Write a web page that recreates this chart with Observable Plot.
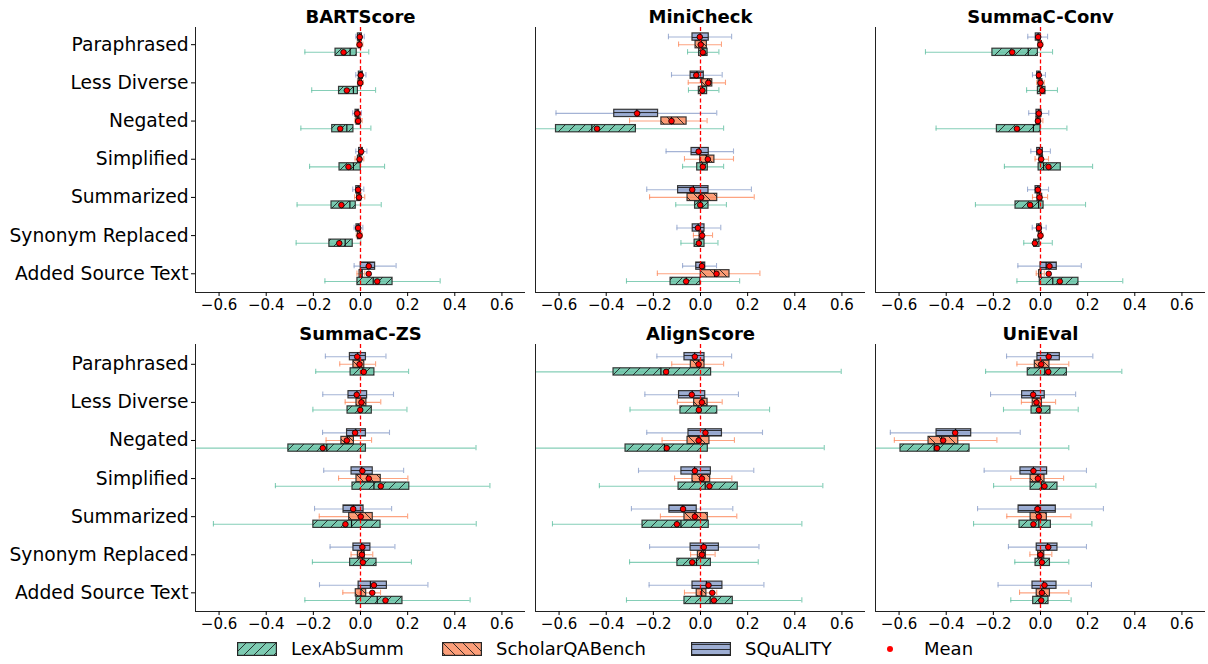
<!DOCTYPE html>
<html>
<head>
<meta charset="utf-8">
<script src="https://cdn.jsdelivr.net/npm/d3@7"></script>
<script src="https://cdn.jsdelivr.net/npm/@observablehq/plot@0.6"></script>
<style>
  html, body { margin: 0; padding: 0; background: #fff; }
  #root { position: relative; width: 1208px; height: 664px; overflow: hidden; font-family: "DejaVu Sans", sans-serif; }
  .panel { position: absolute; }
  .legend-item { position: absolute; font-size: 18px; color: #000; line-height: 1; }
  .legend-item svg { display: block; }
</style>
</head>
<body>
<svg width="0" height="0" style="position:absolute">
  <defs>
    <pattern id="hatch0" patternUnits="userSpaceOnUse" width="10" height="10">
      <path d="M0,10 L10,0 M-1,1 L1,-1 M9,11 L11,9" stroke="#1a1a1a" stroke-width="1" stroke-opacity="0.85"/>
    </pattern>
    <pattern id="hatch1" patternUnits="userSpaceOnUse" width="10" height="10">
      <path d="M0,0 L10,10 M-1,9 L1,11 M9,-1 L11,1" stroke="#1a1a1a" stroke-width="1" stroke-opacity="0.85"/>
    </pattern>
    <pattern id="hatch2" patternUnits="userSpaceOnUse" width="10" height="5">
      <path d="M0,2.5 L10,2.5" stroke="#1a1a1a" stroke-width="1" stroke-opacity="0.85"/>
    </pattern>
  </defs>
</svg>
<div id="root"></div>
<script>
const categories = ["Paraphrased","Less Diverse","Negated","Simplified","Summarized","Synonym Replaced","Added Source Text"];
const datasets = ["LexAbSumm","ScholarQABench","SQuALITY"];
const colors = ["#66c2a5","#fc8d62","#8da0cb"];
const hatches = ["url(#hatch0)","url(#hatch1)","url(#hatch2)"];
const metrics = ["BARTScore","MiniCheck","SummaC-Conv","SummaC-ZS","AlignScore","UniEval"];
const xTicks = [-0.6,-0.4,-0.2,0,0.2,0.4,0.6];

// each row: [whisker low, q1, median, q3, whisker high, mean], in category order
const BARTScore_LexAbSumm = [[-0.236,-0.106,-0.044,-0.016,0.035,-0.072],[-0.207,-0.091,-0.03,-0.011,0.064,-0.058],[-0.253,-0.12,-0.058,-0.03,0.044,-0.086],[-0.216,-0.089,-0.03,0.001,0.102,-0.051],[-0.269,-0.123,-0.045,-0.02,0.088,-0.081],[-0.273,-0.132,-0.065,-0.033,0.001,-0.09],[-0.151,-0.013,0.054,0.136,0.338,0.071]];
const BARTScore_ScholarQABench = [[-0.016,-0.008,-0.004,0.003,0.01,-0.004],[-0.013,-0.008,-0.001,0.006,0.012,-0.001],[-0.024,-0.017,-0.01,0.0,0.007,-0.01],[-0.023,-0.011,-0.004,0.004,0.014,-0.004],[-0.025,-0.014,-0.006,0.003,0.018,-0.006],[-0.018,-0.011,-0.004,0.003,0.008,-0.004],[-0.015,-0.004,0.002,0.01,0.018,0.035]];
const BARTScore_SQuALITY = [[-0.02,-0.011,-0.003,0.006,0.016,-0.003],[-0.02,-0.007,0.002,0.01,0.023,0.001],[-0.033,-0.021,-0.014,-0.006,0.004,-0.014],[-0.02,-0.006,0.003,0.01,0.027,0.003],[-0.033,-0.018,-0.01,-0.001,0.014,-0.01],[-0.027,-0.017,-0.01,0.0,0.01,-0.01],[-0.027,0.001,0.03,0.062,0.151,0.035]];

const MiniCheck_LexAbSumm = [[-0.055,-0.006,0.01,0.03,0.078,0.01],[-0.051,-0.007,0.008,0.028,0.078,0.008],[-0.75,-0.613,-0.461,-0.274,0.098,-0.439],[-0.076,-0.014,0.008,0.031,0.098,0.01],[-0.105,-0.023,0.0,0.034,0.11,-0.001],[-0.083,-0.025,-0.005,0.017,0.074,-0.007],[-0.314,-0.127,-0.06,-0.001,0.166,-0.061]];
const MiniCheck_ScholarQABench = [[-0.093,-0.021,0.002,0.027,0.089,0.001],[-0.052,0.007,0.03,0.05,0.106,0.033],[-0.301,-0.166,-0.123,-0.059,0.028,-0.123],[-0.068,-0.001,0.025,0.059,0.14,0.031],[-0.216,-0.055,0.0,0.071,0.228,0.003],[-0.03,-0.004,0.006,0.014,0.051,0.007],[-0.183,0.001,0.06,0.123,0.252,0.068]];
const MiniCheck_SQuALITY = [[-0.136,-0.034,-0.001,0.035,0.132,-0.003],[-0.123,-0.042,-0.015,0.014,0.092,-0.018],[-0.613,-0.366,-0.27,-0.18,0.069,-0.269],[-0.146,-0.038,-0.005,0.035,0.14,-0.008],[-0.228,-0.095,-0.03,0.034,0.216,-0.035],[-0.1,-0.033,-0.01,0.017,0.086,-0.011],[-0.076,-0.018,0.005,0.02,0.068,0.006]];

const SummaCConv_LexAbSumm = [[-0.488,-0.204,-0.052,-0.011,0.051,-0.12],[-0.059,-0.011,0.005,0.021,0.072,0.007],[-0.443,-0.185,-0.03,0.0,0.112,-0.1],[-0.153,-0.008,0.013,0.086,0.221,0.034],[-0.276,-0.106,-0.008,0.013,0.191,-0.044],[-0.071,-0.027,-0.02,-0.004,0.05,-0.024],[-0.1,-0.003,0.052,0.161,0.349,0.082]];
const SummaCConv_ScholarQABench = [[-0.01,-0.008,-0.001,0.006,0.01,-0.001],[-0.016,-0.008,0.0,0.008,0.016,0.0],[-0.02,-0.017,-0.011,0.0,0.01,-0.011],[-0.023,-0.004,0.003,0.011,0.034,0.003],[-0.034,-0.013,-0.004,0.007,0.03,-0.004],[-0.01,-0.007,0.0,0.006,0.01,0.0],[-0.018,-0.006,0.0,0.004,0.016,0.035]];
const SummaCConv_SQuALITY = [[-0.054,-0.02,-0.01,0.001,0.03,-0.01],[-0.034,-0.014,-0.007,0.001,0.021,-0.007],[-0.05,-0.017,-0.007,0.004,0.035,-0.007],[-0.041,-0.014,-0.004,0.01,0.042,-0.004],[-0.055,-0.021,-0.011,-0.001,0.034,-0.011],[-0.035,-0.014,-0.007,0.004,0.024,-0.007],[-0.096,0.0,0.024,0.069,0.173,0.038]];

const SummaCZS_LexAbSumm = [[-0.19,-0.042,0.01,0.059,0.204,0.014],[-0.202,-0.055,-0.002,0.048,0.197,-0.001],[-0.75,-0.306,-0.143,0.023,0.49,-0.16],[-0.361,-0.034,0.057,0.207,0.549,0.086],[-0.624,-0.2,-0.038,0.085,0.491,-0.064],[-0.204,-0.044,0.008,0.068,0.216,0.01],[-0.236,-0.017,0.071,0.178,0.465,0.106]];
const SummaCZS_ScholarQABench = [[-0.088,-0.03,-0.005,0.016,0.064,-0.004],[-0.065,-0.017,0.003,0.025,0.086,0.004],[-0.146,-0.081,-0.055,-0.028,0.047,-0.058],[-0.093,-0.017,0.03,0.086,0.201,0.035],[-0.175,-0.048,0.0,0.052,0.2,0.001],[-0.04,-0.011,0.004,0.018,0.052,0.006],[-0.075,-0.02,0.002,0.024,0.085,0.05]];
const SummaCZS_SQuALITY = [[-0.149,-0.045,-0.012,0.023,0.108,-0.014],[-0.16,-0.051,-0.015,0.028,0.14,-0.016],[-0.161,-0.057,-0.02,0.023,0.123,-0.023],[-0.156,-0.038,0.005,0.052,0.183,0.008],[-0.195,-0.072,-0.03,0.013,0.132,-0.031],[-0.129,-0.03,0.005,0.042,0.146,0.008],[-0.174,-0.008,0.042,0.112,0.286,0.057]];

const AlignScore_LexAbSumm = [[-0.75,-0.369,-0.168,0.045,0.597,-0.146],[-0.299,-0.085,-0.01,0.071,0.293,-0.007],[-0.75,-0.318,-0.153,0.031,0.525,-0.143],[-0.429,-0.093,0.02,0.158,0.519,0.038],[-0.628,-0.246,-0.083,0.035,0.43,-0.1],[-0.301,-0.098,-0.017,0.044,0.245,-0.035],[-0.314,-0.068,0.041,0.137,0.43,0.057]];
const AlignScore_ScholarQABench = [[-0.122,-0.041,-0.008,0.017,0.098,-0.008],[-0.098,-0.027,0.006,0.03,0.092,0.006],[-0.163,-0.055,-0.01,0.038,0.144,-0.008],[-0.11,-0.034,0.005,0.041,0.133,0.006],[-0.17,-0.068,-0.025,0.031,0.154,-0.024],[-0.042,-0.011,0.005,0.023,0.062,0.006],[-0.068,-0.016,0.005,0.025,0.069,0.05]];
const AlignScore_SQuALITY = [[-0.185,-0.068,-0.025,0.017,0.132,-0.024],[-0.236,-0.091,-0.035,0.02,0.161,-0.037],[-0.228,-0.051,0.02,0.091,0.263,0.021],[-0.263,-0.081,-0.025,0.044,0.226,-0.024],[-0.293,-0.132,-0.075,-0.016,0.137,-0.074],[-0.216,-0.042,0.012,0.078,0.248,0.014],[-0.218,-0.034,0.025,0.093,0.269,0.034]];

const UniEval_LexAbSumm = [[-0.233,-0.054,0.018,0.112,0.345,0.033],[-0.157,-0.038,-0.005,0.042,0.16,-0.007],[-0.75,-0.594,-0.451,-0.301,0.12,-0.439],[-0.199,-0.042,0.004,0.072,0.235,0.017],[-0.284,-0.089,-0.007,0.044,0.218,-0.03],[-0.109,-0.021,0.004,0.04,0.12,0.006],[-0.126,-0.031,0.0,0.034,0.13,0.003]];
const UniEval_ScholarQABench = [[-0.1,-0.024,0.003,0.038,0.12,0.003],[-0.081,-0.033,-0.015,0.006,0.064,-0.017],[-0.62,-0.475,-0.42,-0.349,-0.185,-0.413],[-0.126,-0.042,-0.01,0.017,0.098,-0.011],[-0.143,-0.042,-0.005,0.027,0.129,-0.007],[-0.045,-0.01,0.0,0.016,0.048,0.0],[-0.089,-0.016,0.005,0.04,0.12,0.006]];
const UniEval_SQuALITY = [[-0.144,-0.013,0.03,0.082,0.222,0.035],[-0.212,-0.078,-0.03,0.018,0.149,-0.031],[-0.637,-0.441,-0.36,-0.294,-0.086,-0.362],[-0.239,-0.085,-0.03,0.028,0.195,-0.03],[-0.267,-0.093,-0.012,0.065,0.267,-0.013],[-0.136,-0.016,0.03,0.072,0.195,0.033],[-0.18,-0.034,0.013,0.068,0.216,0.017]];

const metricData = {
  "BARTScore": [BARTScore_LexAbSumm, BARTScore_ScholarQABench, BARTScore_SQuALITY],
  "MiniCheck": [MiniCheck_LexAbSumm, MiniCheck_ScholarQABench, MiniCheck_SQuALITY],
  "SummaC-Conv": [SummaCConv_LexAbSumm, SummaCConv_ScholarQABench, SummaCConv_SQuALITY],
  "SummaC-ZS": [SummaCZS_LexAbSumm, SummaCZS_ScholarQABench, SummaCZS_SQuALITY],
  "AlignScore": [AlignScore_LexAbSumm, AlignScore_ScholarQABench, AlignScore_SQuALITY],
  "UniEval": [UniEval_LexAbSumm, UniEval_ScholarQABench, UniEval_SQuALITY]
};

const offsets = [0.2, 0, -0.2];
const XMIN = -0.7, XMAX = 0.7;
const HB = 0.095; // half box height (category units)
const HC = 0.07;  // half cap height

function fmt(d) {
  if (Math.abs(d) < 1e-9) return "0.0";
  return (d < 0 ? "\u2212" : "") + Math.abs(d).toFixed(1);
}

function panel(metric, col, row) {
  const arrs = metricData[metric];
  const rows = [];
  categories.forEach((c, i) => {
    datasets.forEach((ds, j) => {
      const [lo, q1, med, q3, hi, mean] = arrs[j][i];
      rows.push({cat: c, ds: j, pos: i + offsets[j], lo, q1, med, q3, hi, mean,
                 color: colors[j], hatch: hatches[j]});
    });
  });
  const ml = col === 0 ? 195 : 5;
  const mr = 3;
  const mt = row === 0 ? 27 : 26;
  const inner = row === 0 ? 265 : 267;
  const mb = 30;
  const yBottom = 6.49;
  const yTop = row === 0 ? -0.45 : -0.52;
  const marks = [
    Plot.ruleY(rows, {y: "pos", x1: d => Math.max(d.lo, XMIN), x2: d => Math.min(d.hi, XMAX),
                      stroke: "color", strokeOpacity: 0.8, strokeWidth: 1.1}),
    Plot.ruleX(rows.filter(d => d.lo >= XMIN), {x: "lo", y1: d => d.pos - HC, y2: d => d.pos + HC,
                      stroke: "color", strokeOpacity: 0.8, strokeWidth: 1.1}),
    Plot.ruleX(rows.filter(d => d.hi <= XMAX), {x: "hi", y1: d => d.pos - HC, y2: d => d.pos + HC,
                      stroke: "color", strokeOpacity: 0.8, strokeWidth: 1.1}),
    Plot.rect(rows, {x1: "q1", x2: "q3", y1: d => d.pos - HB, y2: d => d.pos + HB,
                     fill: "color", fillOpacity: 0.85}),
    Plot.rect(rows, {x1: "q1", x2: "q3", y1: d => d.pos - HB, y2: d => d.pos + HB,
                     fill: "hatch", stroke: "#262626", strokeWidth: 1.2, strokeOpacity: 0.9}),
    Plot.ruleX(rows, {x: "med", y1: d => d.pos - HB, y2: d => d.pos + HB, stroke: "#111", strokeWidth: 1.2}),
    Plot.ruleX([0], {stroke: "red", strokeDasharray: "4,2.5", strokeWidth: 1.3}),
    Plot.dot(rows, {x: "mean", y: "pos", r: 2.8, fill: "red", stroke: "#000", strokeWidth: 0.8}),
    Plot.ruleX([XMIN], {stroke: "#222", strokeWidth: 1}),
    Plot.ruleY([yBottom], {stroke: "#222", strokeWidth: 1}),
    Plot.axisX({ticks: xTicks, tickFormat: fmt, tickSize: 4, tickPadding: 3, fontSize: 15, label: null}),
    Plot.text([metric], {text: d => d, frameAnchor: "top", dy: -5, lineAnchor: "bottom",
                         fontSize: 18, fontWeight: "bold", fill: "#000"})
  ];
  if (col === 0) {
    marks.push(Plot.axisY({ticks: [0,1,2,3,4,5,6], tickFormat: i => categories[i],
                           tickSize: 4, tickPadding: 3, fontSize: 18.7, label: null}));
  }
  const chart = Plot.plot({
    width: ml + 330 + mr,
    height: mt + inner + mb,
    marginLeft: ml, marginRight: mr, marginTop: mt, marginBottom: mb,
    x: {domain: [XMIN, XMAX], axis: null},
    y: {domain: [yBottom, yTop], axis: null},
    color: {type: "identity"},
    style: {fontFamily: "'DejaVu Sans', sans-serif", fontSize: "15px", color: "#000", background: "transparent", overflow: "visible"},
    marks
  });
  const wrap = document.createElement("div");
  wrap.className = "panel";
  wrap.style.left = (col === 0 ? 0 : col === 1 ? 530 : 870) + "px";
  wrap.style.top = (row === 0 ? 0 : 318) + "px";
  wrap.appendChild(chart);
  return wrap;
}

const root = document.getElementById("root");
metrics.forEach((m, k) => root.appendChild(panel(m, k % 3, Math.floor(k / 3))));

// legend
const legendPatchX = [237, 442, 691];
const legendTextX = [291, 496, 745];
datasets.forEach((ds, j) => {
  const p = document.createElement("div");
  p.className = "legend-item";
  p.style.left = legendPatchX[j] + "px";
  p.style.top = "642px";
  p.innerHTML = `<svg width="40" height="14"><rect x="0.6" y="0.6" width="38.8" height="12.8" fill="${colors[j]}" fill-opacity="0.85"/><rect x="0.6" y="0.6" width="38.8" height="12.8" fill="${hatches[j]}" stroke="#262626" stroke-width="1.2"/></svg>`;
  root.appendChild(p);
  const t = document.createElement("div");
  t.className = "legend-item";
  t.style.left = legendTextX[j] + "px";
  t.style.top = "640px";
  t.textContent = ds;
  root.appendChild(t);
});
const md = document.createElement("div");
md.className = "legend-item";
md.style.left = "886px";
md.style.top = "645px";
md.innerHTML = `<svg width="8" height="8"><circle cx="4" cy="4" r="3" fill="red"/></svg>`;
root.appendChild(md);
const mt = document.createElement("div");
mt.className = "legend-item";
mt.style.left = "924px";
mt.style.top = "640px";
mt.textContent = "Mean";
root.appendChild(mt);
</script>
</body>
</html>
